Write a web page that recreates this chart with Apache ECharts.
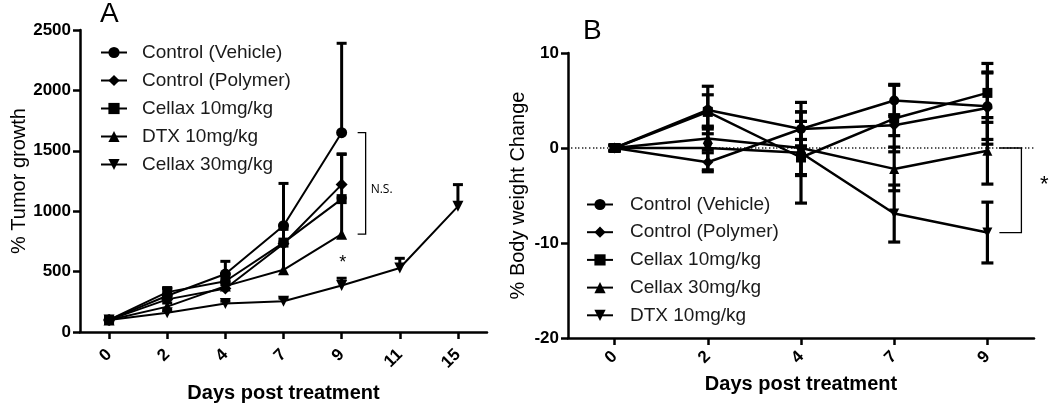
<!DOCTYPE html>
<html><head><meta charset="utf-8">
<script src="https://cdn.jsdelivr.net/npm/echarts@6/dist/echarts.min.js"></script>
<style>html,body{margin:0;padding:0;background:#fff}#c{width:1050px;height:408px}</style>
</head><body><div id="c"></div>
<script>
// ---------- Panel A data (% Tumor growth), error bars drawn upward (mean + SEM) ----------
const daysA = ['0', '2', '4', '7', '9', '11', '15'];
const namesA = ['Control (Vehicle)', 'Control (Polymer)', 'Cellax 10mg/kg', 'DTX 10mg/kg', 'Cellax 30mg/kg'];
const vehicleA = [100, 300, 480, 880, 1650];
const vehicleAErr = [15, 60, 105, 350, 740];
const polymerA = [100, 270, 360, 730, 1220];
const polymerAErr = [10, 40, 50, 120, 255];
const cellax10A = [100, 330, 420, 740, 1100];
const cellax10AErr = [10, 38, 60, 140, 370];
const dtx10A = [100, 210, 380, 515, 810];
const dtx10AErr = [10, 30, 40, 230, 300];
const cellax30A = [100, 160, 235, 255, 385, 530, 1040];
const cellax30AErr = [10, 20, 20, 25, 60, 80, 180];
const starValueA = 570;          // "*" above Cellax 30 at day 9

// ---------- Panel B data (% Body weight change), error bars mean ± SEM ----------
const daysB = ['0', '2', '4', '7', '9'];
const namesB = ['Control (Vehicle)', 'Control (Polymer)', 'Cellax 10mg/kg', 'Cellax 30mg/kg', 'DTX 10mg/kg'];
const vehicleB = [0, 4.0, 2.0, 5.0, 4.4];
const vehicleBErr = [0.3, 2.5, 1.8, 1.7, 3.5];
const polymerB = [0, -1.5, 2.0, 2.4, 4.2];
const polymerBErr = [0.3, 1.0, 1.8, 1.1, 3.8];
const cellax10B = [0, 3.8, -1.0, 3.1, 5.8];
const cellax10BErr = [0.3, 1.8, 1.9, 3.5, 3.1];
const cellax30B = [0, 1.0, 0, -2.2, -0.3];
const cellax30BErr = [0.3, 1.2, 2.8, 2.3, 3.5];
const dtx10B = [0, 0, -0.5, -6.9, -8.9];
const dtx10BErr = [0.3, 2.3, 5.3, 3.0, 3.2];
const starValueB = -3.9;
const baselineB = 0;

const FONT = 'Liberation Sans, Arial, Helvetica, sans-serif';
const SUFFIX_B = ' [B]';

function errData(vals, errs, upOnly) {
  return vals.map((v, i) => [i, upOnly ? v : v - errs[i], v + errs[i]]);
}
function errRender(capW, lw, upOnly) {
  return function (params, api) {
    const x = api.value(0), lo = api.value(1), hi = api.value(2);
    const p1 = api.coord([x, hi]), p2 = api.coord([x, lo]);
    const st = { stroke: '#000', lineWidth: lw };
    const children = [
      { type: 'line', shape: { x1: p1[0], y1: p1[1], x2: p2[0], y2: p2[1] }, style: st },
      { type: 'line', shape: { x1: p1[0] - capW / 2, y1: p1[1], x2: p1[0] + capW / 2, y2: p1[1] }, style: st }
    ];
    if (!upOnly) {
      children.push({ type: 'line', shape: { x1: p2[0] - capW / 2, y1: p2[1], x2: p2[0] + capW / 2, y2: p2[1] }, style: st });
    }
    return { type: 'group', children };
  };
}
// dotted reference line across the whole plot width at the baseline value
function baselineRender(params, api) {
  const cs = params.coordSys;
  const p = api.coord([0, api.value(0)]);
  const y = Math.round(p[1]);
  const dots = [];
  for (let x = cs.x + 3; x < cs.x + cs.width; x += 3.6) {
    dots.push({ type: 'rect', shape: { x: Math.round(x), y: y - 0.75, width: 1.4, height: 1.5 }, style: { fill: '#222' } });
  }
  return { type: 'group', children: dots };
}
function bracketRender(off1, off2, label, labelOff, labelFont) {
  return function (params, api) {
    const x = api.value(0), top = api.value(1), bot = api.value(2);
    const p1 = api.coord([x, top]), p2 = api.coord([x, bot]);
    const xa = p1[0] + off1, xb = p1[0] + off2;
    const children = [
      { type: 'polyline', shape: { points: [[xa, p1[1]], [xb, p1[1]], [xb, p2[1]], [xa, p2[1]]] }, style: { stroke: '#000', lineWidth: 1.3, fill: null } }
    ];
    if (label) {
      children.push({ type: 'text', x: xb + labelOff, y: (p1[1] + p2[1]) / 2 + 6,
        style: { text: label, fill: '#000', font: labelFont, align: 'left', verticalAlign: 'middle' } });
    }
    return { type: 'group', children };
  };
}
function starRender(font) {
  return function (params, api) {
    const p = api.coord([api.value(0), api.value(1)]);
    return { type: 'text', x: p[0] + api.value(2), y: p[1],
      style: { text: '*', fill: '#000', font: font, align: 'center', verticalAlign: 'middle' } };
  };
}

function lineSeries(name, data, symbol, rot, xi, size, lw) {
  return {
    type: 'line', name, data, xAxisIndex: xi, yAxisIndex: xi,
    symbol, symbolRotate: rot, symbolSize: size, showSymbol: true,
    lineStyle: { color: '#000', width: lw }, itemStyle: { color: '#000' },
    z: 3
  };
}

const axisCommon = {
  axisLine: { show: true, onZero: false, lineStyle: { color: '#000', width: 2.5 } },
  splitLine: { show: false }
};
const tickCommon = { show: true, length: 7, lineStyle: { color: '#000', width: 2.5 } };

const option = {
  backgroundColor: '#fff',
  animation: false,
  graphic: [
    { type: 'text', left: 100, top: 0, style: { text: 'A', font: '28px ' + FONT, fill: '#000' } },
    { type: 'text', left: 583, top: 17, style: { text: 'B', font: '28px ' + FONT, fill: '#000' } }
  ],
  grid: [
    { left: 80, top: 30, width: 407, height: 308 },
    { left: 568, top: 53, width: 466, height: 285 }
  ],
  xAxis: [
    Object.assign({}, axisCommon, {
      type: 'category', gridIndex: 0, data: daysA, boundaryGap: true,
      axisTick: Object.assign({ alignWithLabel: true }, tickCommon),
      axisLabel: { rotate: 45, interval: 0, margin: 20, color: '#000', fontFamily: FONT, fontWeight: 'bold', fontSize: 17 },
      name: 'Days post treatment', nameLocation: 'middle', nameGap: 51,
      nameTextStyle: { color: '#000', fontFamily: FONT, fontWeight: 'bold', fontSize: 20 }
    }),
    Object.assign({}, axisCommon, {
      type: 'category', gridIndex: 1, data: daysB, boundaryGap: true,
      axisTick: Object.assign({ alignWithLabel: true }, tickCommon),
      axisLabel: { rotate: 45, interval: 0, margin: 16, color: '#000', fontFamily: FONT, fontWeight: 'bold', fontSize: 17 },
      name: 'Days post treatment', nameLocation: 'middle', nameGap: 36,
      nameTextStyle: { color: '#000', fontFamily: FONT, fontWeight: 'bold', fontSize: 20 }
    })
  ],
  yAxis: [
    Object.assign({}, axisCommon, {
      type: 'value', gridIndex: 0, min: 0, max: 2500, interval: 500,
      axisTick: tickCommon,
      axisLabel: { margin: 9, color: '#000', fontFamily: FONT, fontWeight: 'bold', fontSize: 17, formatter: v => String(v) },
      name: '% Tumor growth', nameLocation: 'middle', nameGap: 34,
      nameTextStyle: { color: '#000', fontFamily: FONT, fontSize: 20 }
    }),
    Object.assign({}, axisCommon, {
      type: 'value', gridIndex: 1, min: -20, max: 10, interval: 10,
      axisTick: tickCommon,
      axisLabel: { margin: 9, color: '#000', fontFamily: FONT, fontWeight: 'bold', fontSize: 17, formatter: v => String(v) },
      name: '% Body weight Change', nameLocation: 'middle', nameGap: 40,
      nameTextStyle: { color: '#000', fontFamily: FONT, fontSize: 20 }
    })
  ],
  legend: [
    {
      orient: 'vertical', left: 95, top: 38, itemWidth: 26, itemHeight: 14, itemGap: 9,
      data: namesA, selectedMode: false,
      textStyle: { color: '#1a1a1a', fontFamily: FONT, fontSize: 19, padding: [0, 0, 0, 10] }
    },
    {
      orient: 'vertical', left: 581, top: 190, itemWidth: 26, itemHeight: 14, itemGap: 8.7,
      data: namesB.map(n => n + SUFFIX_B), selectedMode: false,
      formatter: n => n.replace(SUFFIX_B, ''),
      textStyle: { color: '#1a1a1a', fontFamily: FONT, fontSize: 19, padding: [0, 0, 0, 12] }
    }
  ],
  series: [
    // Panel A lines
    lineSeries(namesA[0], vehicleA, 'circle', 0, 0, 11, 2),
    lineSeries(namesA[1], polymerA, 'diamond', 0, 0, 12, 2),
    lineSeries(namesA[2], cellax10A, 'rect', 0, 0, 10, 2),
    lineSeries(namesA[3], dtx10A, 'triangle', 0, 0, 11, 2),
    lineSeries(namesA[4], cellax30A, 'triangle', 180, 0, 11, 2),
    // Panel A error bars (upward)
    {
      type: 'custom', xAxisIndex: 0, yAxisIndex: 0, z: 2, silent: true,
      renderItem: errRender(10, 3, true),
      encode: { x: 0, y: [1, 2] },
      data: [].concat(
        errData(vehicleA, vehicleAErr, true), errData(polymerA, polymerAErr, true),
        errData(cellax10A, cellax10AErr, true), errData(dtx10A, dtx10AErr, true),
        errData(cellax30A, cellax30AErr, true))
    },
    // Panel A bracket + N.S.
    {
      type: 'custom', xAxisIndex: 0, yAxisIndex: 0, z: 4, silent: true,
      renderItem: bracketRender(16, 24, 'N.S.', 5, '12px Open Sans, sans-serif'),
      encode: { x: 0, y: [1, 2] },
      data: [[4, vehicleA[4], dtx10A[4]]]
    },
    {
      type: 'custom', xAxisIndex: 0, yAxisIndex: 0, z: 4, silent: true,
      renderItem: starRender('18px ' + FONT),
      encode: { x: 0, y: 1 },
      data: [[4, starValueA, 1]]
    },
    // Panel B dotted baseline at 0
    {
      type: 'custom', xAxisIndex: 1, yAxisIndex: 1, z: 1, silent: true,
      renderItem: baselineRender,
      encode: { y: 0 },
      data: [[baselineB]]
    },
    // Panel B lines
    lineSeries(namesB[0] + SUFFIX_B, vehicleB, 'circle', 0, 1, 10, 2.5),
    lineSeries(namesB[1] + SUFFIX_B, polymerB, 'diamond', 0, 1, 11, 2.5),
    lineSeries(namesB[2] + SUFFIX_B, cellax10B, 'rect', 0, 1, 10, 2.5),
    lineSeries(namesB[3] + SUFFIX_B, cellax30B, 'triangle', 0, 1, 10, 2.5),
    lineSeries(namesB[4] + SUFFIX_B, dtx10B, 'triangle', 180, 1, 10, 2.5),
    // Panel B error bars
    {
      type: 'custom', xAxisIndex: 1, yAxisIndex: 1, z: 2, silent: true,
      renderItem: errRender(12, 3.2, false),
      encode: { x: 0, y: [1, 2] },
      data: [].concat(
        errData(vehicleB, vehicleBErr, false), errData(polymerB, polymerBErr, false),
        errData(cellax10B, cellax10BErr, false), errData(cellax30B, cellax30BErr, false),
        errData(dtx10B, dtx10BErr, false))
    },
    // Panel B bracket + *
    {
      type: 'custom', xAxisIndex: 1, yAxisIndex: 1, z: 4, silent: true,
      renderItem: bracketRender(12, 34, null, 0, ''),
      encode: { x: 0, y: [1, 2] },
      data: [[4, 0, dtx10B[4]]]
    },
    {
      type: 'custom', xAxisIndex: 1, yAxisIndex: 1, z: 4, silent: true,
      renderItem: starRender('22px ' + FONT),
      encode: { x: 0, y: 1 },
      data: [[4, starValueB, 57]]
    }
  ]
};

const chart = echarts.init(document.getElementById('c'), null, { renderer: 'canvas' });
chart.setOption(option);
</script>
</body></html>
